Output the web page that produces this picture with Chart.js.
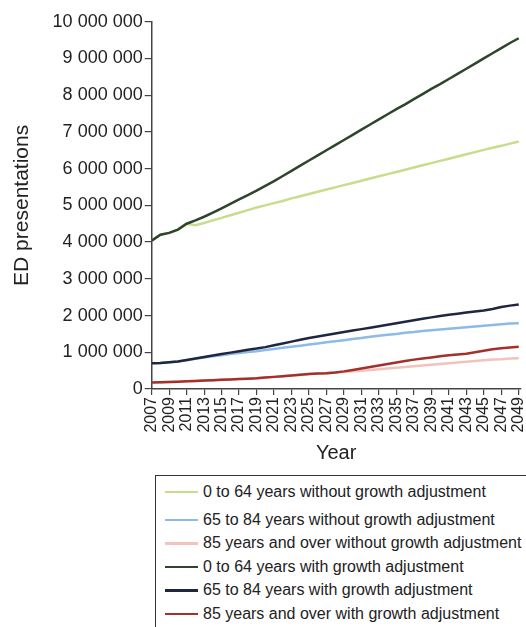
<!DOCTYPE html>
<html>
<head>
<meta charset="utf-8">
<script src="https://cdn.jsdelivr.net/npm/chart.js@4/dist/chart.umd.min.js"></script>
<style>
  html, body { margin: 0; padding: 0; background: #fff; overflow: hidden; width: 526px; height: 627px; }
  #wrap { position: absolute; left: 0; top: 0; width: 540px; height: 470px; }
  #legend {
    position: absolute; left: 155px; top: 475px; width: 420px; height: 200px;
    border-left: 1.5px solid #333; border-top: 1.5px solid #333; box-sizing: border-box;
    padding: 4px 0 0 9px;
    font: 16px "Liberation Sans", Arial, sans-serif; color: #222;
  }
  .item { display: flex; align-items: center; height: 23.5px; white-space: nowrap; }
  .item:first-child { margin-bottom: 4.5px; }
  .swatch { width: 33px; height: 2.5px; margin-right: 5px; flex: none; }
</style>
</head>
<body>
<div id="wrap"><canvas id="chart" width="540" height="470"></canvas></div>
<div id="legend"></div>
<script>
// Projected emergency department presentations by age group, 2007-2049 (millions)
const years = [];
for (let y = 2007; y <= 2049; y++) years.push(y);

const age0to64Without = [4.04, 4.20, 4.25, 4.34, 4.50, 4.46, 4.52, 4.59, 4.66, 4.73,
  4.80, 4.87, 4.94, 5.00, 5.06, 5.12, 5.19, 5.25, 5.31, 5.37,
  5.43, 5.49, 5.55, 5.61, 5.67, 5.73, 5.79, 5.85, 5.91, 5.97,
  6.03, 6.09, 6.15, 6.21, 6.27, 6.33, 6.39, 6.45, 6.51, 6.57,
  6.62, 6.68, 6.74];
const age65to84Without = [0.70, 0.71, 0.73, 0.75, 0.78, 0.82, 0.86, 0.89, 0.92, 0.95,
  0.98, 1.01, 1.03, 1.06, 1.09, 1.12, 1.15, 1.18, 1.21, 1.24,
  1.27, 1.30, 1.33, 1.36, 1.39, 1.42, 1.45, 1.48, 1.50, 1.53,
  1.55, 1.58, 1.60, 1.62, 1.64, 1.66, 1.68, 1.70, 1.72, 1.74,
  1.76, 1.78, 1.79];
const age85plusWithout = [0.18, 0.185, 0.19, 0.20, 0.21, 0.22, 0.23, 0.24, 0.25, 0.26,
  0.27, 0.28, 0.29, 0.31, 0.33, 0.35, 0.37, 0.39, 0.41, 0.42,
  0.43, 0.45, 0.46, 0.48, 0.50, 0.52, 0.54, 0.56, 0.58, 0.60,
  0.62, 0.64, 0.66, 0.68, 0.70, 0.72, 0.74, 0.76, 0.78, 0.80,
  0.81, 0.83, 0.84];
const age0to64With = [4.04, 4.20, 4.25, 4.34, 4.50, 4.59, 4.69, 4.80, 4.92, 5.04,
  5.16, 5.28, 5.40, 5.53, 5.66, 5.80, 5.94, 6.08, 6.22, 6.36,
  6.50, 6.64, 6.78, 6.92, 7.06, 7.20, 7.34, 7.48, 7.62, 7.75,
  7.89, 8.03, 8.17, 8.30, 8.44, 8.58, 8.72, 8.86, 9.00, 9.14,
  9.28, 9.42, 9.55];
const age65to84With = [0.70, 0.71, 0.73, 0.75, 0.79, 0.83, 0.87, 0.91, 0.95, 0.99,
  1.03, 1.07, 1.10, 1.14, 1.19, 1.24, 1.29, 1.34, 1.39, 1.43,
  1.47, 1.51, 1.55, 1.59, 1.63, 1.67, 1.71, 1.75, 1.79, 1.83,
  1.87, 1.91, 1.95, 1.99, 2.02, 2.05, 2.08, 2.11, 2.14, 2.18,
  2.23, 2.27, 2.30];
const age85plusWith = [0.18, 0.185, 0.19, 0.20, 0.21, 0.22, 0.23, 0.24, 0.25, 0.26,
  0.27, 0.28, 0.29, 0.31, 0.33, 0.35, 0.37, 0.39, 0.41, 0.42,
  0.43, 0.45, 0.48, 0.52, 0.56, 0.60, 0.64, 0.68, 0.72, 0.76,
  0.80, 0.83, 0.86, 0.89, 0.92, 0.94, 0.96, 1.00, 1.04, 1.08,
  1.11, 1.13, 1.15];

const seriesLabels = [
  '0 to 64 years without growth adjustment',
  '65 to 84 years without growth adjustment',
  '85 years and over without growth adjustment',
  '0 to 64 years with growth adjustment',
  '65 to 84 years with growth adjustment',
  '85 years and over with growth adjustment'
];

const xTickYears = [2007, 2009, 2011, 2013, 2015, 2017, 2019, 2021, 2023, 2025, 2027,
  2029, 2031, 2033, 2035, 2037, 2039, 2041, 2043, 2045, 2047, 2049];
const yTickValues = [0, 1000000, 2000000, 3000000, 4000000, 5000000,
  6000000, 7000000, 8000000, 9000000, 10000000];
const yTickLabels = ['0', '1 000 000', '2 000 000', '3 000 000', '4 000 000', '5 000 000',
  '6 000 000', '7 000 000', '8 000 000', '9 000 000', '10 000 000'];

const FONT = '"Liberation Sans", Arial, Helvetica, sans-serif';
Chart.defaults.font.family = FONT;
Chart.defaults.color = '#222';

const seriesValues = [age0to64Without, age65to84Without, age85plusWithout,
  age0to64With, age65to84With, age85plusWith];
const colors = ['#c6dd8c', '#8dbbe8', '#f3c2bd', '#2d452b', '#1f2640', '#a3302a'];
const drawOrder = [1, 1, 1, 0, 0, 0]; // adjusted series sit on top

const datasets = seriesValues.map((vals, i) => ({
  label: seriesLabels[i],
  data: vals.map((v, k) => ({ x: years[k], y: v * 1e6 })),
  borderColor: colors[i],
  backgroundColor: colors[i],
  borderWidth: 2.5,
  pointRadius: 0,
  tension: 0,
  fill: false,
  order: drawOrder[i]
}));

const chart = new Chart(document.getElementById('chart'), {
  type: 'line',
  data: { datasets },
  options: {
    responsive: false,
    animation: false,
    layout: { padding: { left: 0, top: 21.7, right: 14.5, bottom: 0 } },
    plugins: { legend: { display: false }, tooltip: { enabled: false } },
    scales: {
      x: {
        type: 'linear',
        min: 2007,
        max: 2049.2,
        afterBuildTicks: s => { s.ticks = xTickYears.map(v => ({ value: v })); },
        afterFit: s => { s.height = 81; },
        ticks: {
          autoSkip: false, minRotation: 90, maxRotation: 90, padding: 2,
          color: '#222', font: { size: 16 },
          callback: v => String(v)
        },
        grid: { drawOnChartArea: false, tickLength: 6, color: '#444', lineWidth: 1.2 },
        border: { color: '#444', width: 1.5 },
        title: { display: true, text: 'Year', color: '#222', font: { size: 20 }, padding: { top: 0, bottom: 5 } }
      },
      y: {
        type: 'linear',
        min: 0,
        max: 10000000,
        afterBuildTicks: s => { s.ticks = yTickValues.map(v => ({ value: v })); },
        afterFit: s => { s.width = 151.7; },
        ticks: {
          padding: 2, color: '#222', font: { size: 18 },
          callback: v => yTickLabels[yTickValues.indexOf(v)]
        },
        grid: { drawOnChartArea: false, tickLength: 7, color: '#444', lineWidth: 1.2 },
        border: { color: '#444', width: 1.5 },
        title: { display: true, text: 'ED presentations', color: '#222', font: { size: 21 }, padding: { top: 9.4, bottom: 0 } }
      }
    }
  }
});

// Boxed legend below the plot, built from the chart's datasets
const legend = document.getElementById('legend');
chart.data.datasets.forEach(ds => {
  const row = document.createElement('div');
  row.className = 'item';
  const sw = document.createElement('span');
  sw.className = 'swatch';
  sw.style.background = ds.borderColor;
  const txt = document.createElement('span');
  txt.textContent = ds.label;
  row.appendChild(sw);
  row.appendChild(txt);
  legend.appendChild(row);
});
</script>
</body>
</html>
